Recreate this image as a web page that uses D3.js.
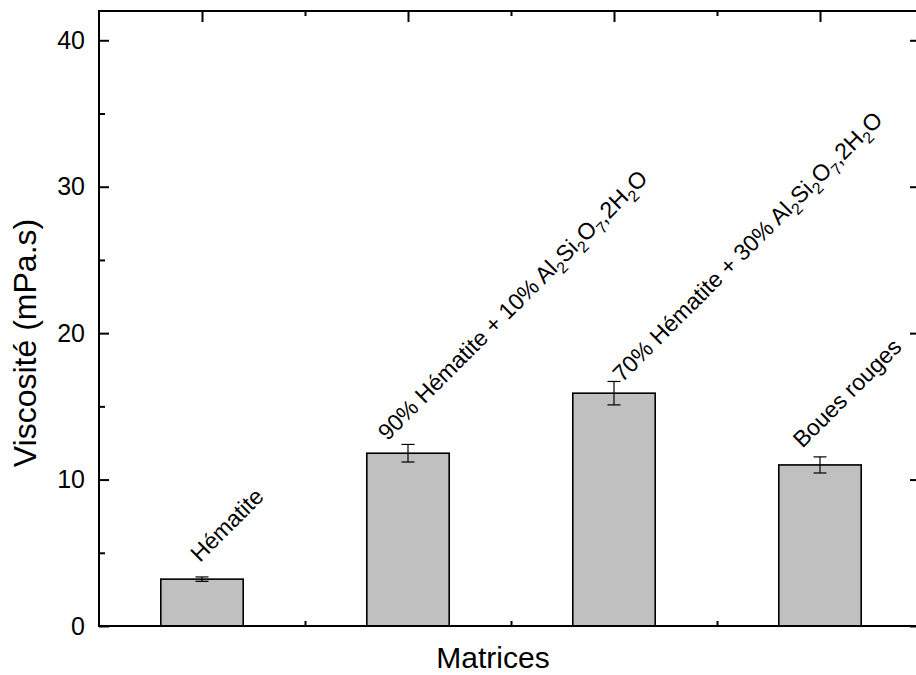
<!DOCTYPE html>
<html>
<head>
<meta charset="utf-8">
<script src="https://cdn.jsdelivr.net/npm/d3@7"></script>
<style>
  html, body { margin: 0; padding: 0; background: #fff; }
  svg { display: block; font-family: "Liberation Sans", Arial, sans-serif; }
</style>
</head>
<body>
<svg id="chart" width="916" height="675"></svg>
<script>
// ---- data ----
const categories = ["Hématite", "90% Hématite + 10% Al2Si2O7,2H2O", "70% Hématite + 30% Al2Si2O7,2H2O", "Boues rouges"];
// labels with "_x" marking a subscript character
const labelTexts = ["Hématite", "90% Hématite + 10% Al_2Si_2O_7,2H_2O", "70% Hématite + 30% Al_2Si_2O_7,2H_2O", "Boues rouges"];
const values = [3.2, 11.8, 15.9, 11.0];
const errors = [0.15, 0.6, 0.8, 0.55];
// label anchors in data space: category offset and value
const labelOffsets = [-0.01, -0.10, 0.04, -0.085];
const labelLevels = [4.3, 12.6, 16.6, 12.1];
const yMajorTicks = [0, 10, 20, 30, 40];
const yMinorTicks = [5, 15, 25, 35];
const yTitle = "Viscosité (mPa.s)";
const xTitle = "Matrices";

// ---- layout ----
const svg = d3.select("#chart");
const pL = 99, pR = 923, pT = 11, pB = 626;

const x = d3.scaleLinear().domain([-0.5, categories.length - 0.5]).range([pL, pR]);
const y = d3.scaleLinear().domain([0, 42]).range([pB, pT]);
const unit = x(1) - x(0);
const barW = unit * 0.40;

const catIdx = categories.map((d, i) => i);
const minorX = catIdx.slice(1).map(i => i - 0.5);

function styleAxis(g) {
  g.select(".domain").remove();
  g.selectAll(".tick line").attr("stroke", "#000").attr("stroke-width", 2);
}

// left axis
svg.append("g").attr("transform", `translate(${pL},0)`)
  .call(d3.axisLeft(y).tickValues(yMajorTicks).tickFormat(d3.format("d")).tickSize(-10).tickPadding(14))
  .call(styleAxis)
  .call(g => g.selectAll("text").attr("font-size", 25).attr("fill", "#000")
    .attr("font-family", "Liberation Sans, Arial, sans-serif"));
svg.append("g").attr("transform", `translate(${pL},0)`)
  .call(d3.axisLeft(y).tickValues(yMinorTicks).tickFormat("").tickSize(-6))
  .call(styleAxis);
// right axis
svg.append("g").attr("transform", `translate(${pR},0)`)
  .call(d3.axisRight(y).tickValues(yMajorTicks).tickFormat("").tickSize(-13))
  .call(styleAxis);
// bottom axis
svg.append("g").attr("transform", `translate(0,${pB})`)
  .call(d3.axisBottom(x).tickValues(catIdx).tickFormat("").tickSize(-12))
  .call(styleAxis);
svg.append("g").attr("transform", `translate(0,${pB})`)
  .call(d3.axisBottom(x).tickValues(minorX).tickFormat("").tickSize(-5))
  .call(styleAxis);
// top axis
svg.append("g").attr("transform", `translate(0,${pT})`)
  .call(d3.axisTop(x).tickValues(catIdx).tickFormat("").tickSize(-11))
  .call(styleAxis);
svg.append("g").attr("transform", `translate(0,${pT})`)
  .call(d3.axisTop(x).tickValues(minorX).tickFormat("").tickSize(-5))
  .call(styleAxis);

// bars
svg.append("g").selectAll("rect").data(values).join("rect")
  .attr("x", (d, i) => x(i) - barW / 2)
  .attr("y", d => y(d))
  .attr("width", barW)
  .attr("height", d => y(0) - y(d))
  .attr("fill", "#c0c0c0")
  .attr("stroke", "#000")
  .attr("stroke-width", 1.6);

// error bars
const eg = svg.append("g").attr("stroke", "#000").attr("stroke-width", 1.2);
values.forEach((v, i) => {
  const cx = x(i), e = errors[i], cw = 6.5;
  eg.append("line").attr("x1", cx).attr("x2", cx).attr("y1", y(v - e)).attr("y2", y(v + e));
  eg.append("line").attr("x1", cx - cw).attr("x2", cx + cw).attr("y1", y(v + e)).attr("y2", y(v + e));
  eg.append("line").attr("x1", cx - cw).attr("x2", cx + cw).attr("y1", y(v - e)).attr("y2", y(v - e));
});

// frame
svg.append("rect")
  .attr("x", pL).attr("y", pT)
  .attr("width", pR - pL).attr("height", pB - pT)
  .attr("fill", "none").attr("stroke", "#000").attr("stroke-width", 2);

// rotated category labels with subscripts
function parseLabel(s) {
  const parts = [];
  let buf = "";
  for (let k = 0; k < s.length; k++) {
    if (s[k] === "_" && k + 1 < s.length) {
      if (buf) parts.push({ t: buf, sub: false });
      buf = "";
      parts.push({ t: s[k + 1], sub: true });
      k++;
    } else buf += s[k];
  }
  if (buf) parts.push({ t: buf, sub: false });
  return parts;
}
labelTexts.forEach((lab, i) => {
  const ax = x(i + labelOffsets[i]), ay = y(labelLevels[i]);
  const t = svg.append("text")
    .attr("transform", `translate(${ax},${ay}) rotate(-45)`)
    .attr("font-size", 23).attr("fill", "#000");
  let shifted = false;
  parseLabel(lab).forEach(p => {
    const ts = t.append("tspan").text(p.t);
    if (p.sub) {
      ts.attr("font-size", 16).attr("dy", shifted ? 0 : 6);
      shifted = true;
    } else {
      if (shifted) ts.attr("dy", -6);
      shifted = false;
    }
  });
});

// axis titles
svg.append("text")
  .attr("transform", `translate(36,343) rotate(-90)`)
  .attr("text-anchor", "middle").attr("font-size", 32).attr("fill", "#000")
  .text(yTitle);
svg.append("text")
  .attr("x", 493).attr("y", 668)
  .attr("text-anchor", "middle").attr("font-size", 30).attr("fill", "#000")
  .text(xTitle);
</script>
</body>
</html>
